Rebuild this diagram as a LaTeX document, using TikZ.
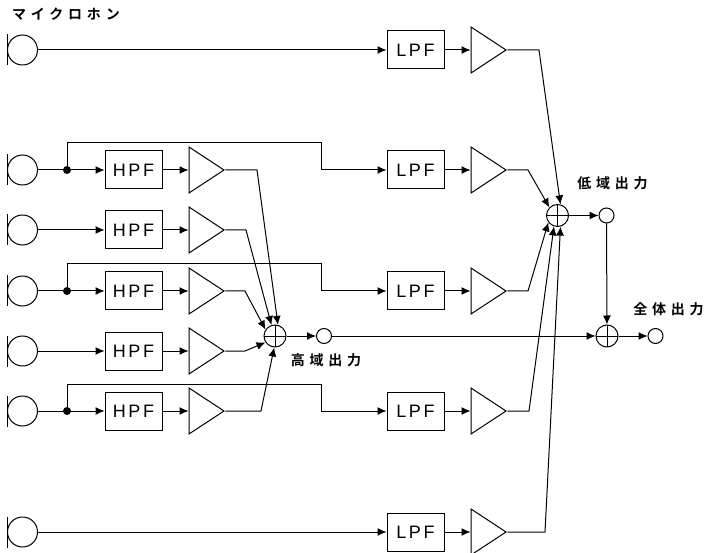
\documentclass[tikz,border=0pt]{standalone}
\usepackage{fontspec}
\newfontfamily\cjk[LetterSpace=34]{Noto Sans CJK JP Bold}
\setsansfont[LetterSpace=15]{Liberation Sans}
\usetikzlibrary{positioning, arrows.meta, calc, shapes.geometric}

\begin{document}
\begin{tikzpicture}[
    x=1pt, y=-1pt,
    node distance=26pt,
    mic/.style={circle, draw, inner sep=0pt, minimum size=30pt, line width=1pt,
                append after command={(\tikzlastnode.west |- \tikzlastnode.north) edge[line width=1pt] (\tikzlastnode.west |- \tikzlastnode.south)}},
    filter/.style={rectangle, draw, inner sep=0pt, minimum width=57pt, minimum height=38pt,
                   line width=1pt, font=\sffamily\fontsize{18}{18}\selectfont},
    amp/.style={isosceles triangle, isosceles triangle stretches, draw, inner sep=0pt,
                minimum width=46pt, minimum height=35pt, line width=1pt},
    adder/.style={circle, draw, inner sep=0pt, minimum size=22pt, line width=1pt,
                  path picture={\draw (path picture bounding box.north) -- (path picture bounding box.south)
                                      (path picture bounding box.west) -- (path picture bounding box.east);}},
    outlet/.style={circle, draw, inner sep=0pt, minimum size=15pt, line width=1pt},
    junction/.style={circle, fill, inner sep=0pt, minimum size=8pt},
    caption/.style={font=\cjk\fontsize{14}{15}\selectfont, inner sep=0pt},
    wire/.style={line width=1pt},
    arrow/.style={-{Latex[length=9pt, width=8pt]}, line width=1pt}
  ]
    \useasboundingbox (0,0) rectangle (704,553);

    \node[caption] (title) at (66,14) {マイクロホン};

    \node[mic] (m1) at (22.5,50) {};
    \node[mic] (m2) at (22.5,170) {};
    \node[mic] (m3) at (22.5,230) {};
    \node[mic] (m4) at (22.5,291) {};
    \node[mic] (m5) at (22.5,351) {};
    \node[mic] (m6) at (22.5,411) {};
    \node[mic] (m7) at (22.5,532) {};

    \node[junction] (d2) at (67,170) {};
    \node[junction] (d4) at (67,291) {};
    \node[junction] (d6) at (67,411) {};

    \node[filter] (h2) at (133.5,170) {HPF};
    \node[filter] (h3) at (133.5,230) {HPF};
    \node[filter] (h4) at (133.5,291) {HPF};
    \node[filter] (h5) at (133.5,351) {HPF};
    \node[filter] (h6) at (133.5,411) {HPF};
    \node[amp, right=of h2] (a2) {};
    \node[amp, right=of h3] (a3) {};
    \node[amp, right=of h4] (a4) {};
    \node[amp, right=of h5] (a5) {};
    \node[amp, right=of h6] (a6) {};

    \node[filter] (l1) at (415.5,50) {LPF};
    \node[filter] (l2) at (415.5,170) {LPF};
    \node[filter] (l4) at (415.5,291) {LPF};
    \node[filter] (l6) at (415.5,411) {LPF};
    \node[filter] (l7) at (415.5,532) {LPF};
    \node[amp, right=of l1] (b1) {};
    \node[amp, right=of l2] (b2) {};
    \node[amp, right=of l4] (b4) {};
    \node[amp, right=of l6] (b6) {};
    \node[amp, right=of l7] (b7) {};

    \node[adder] (sumhigh) at (275,336) {};
    \node[outlet] (outhigh) at (324,336) {};
    \node[caption] (caphigh) at (326,360) {高域出力};
    \node[adder] (sumlow) at (557.5,215.5) {};
    \node[outlet] (outlow) at (606.5,215.5) {};
    \node[caption] (caplow) at (612.5,183) {低域出力};
    \node[adder] (sumall) at (607,336) {};
    \node[outlet] (outall) at (655.5,336) {};
    \node[caption] (capall) at (668.5,309) {全体出力};

    % bends
    \coordinate (t2) at (321,143);
    \coordinate (t4) at (321,264);
    \coordinate (t6) at (321,384);

    \draw[arrow] (m1) -- (l1);
    \draw[wire] (m2) -- (d2);
    \draw[wire] (m4) -- (d4);
    \draw[wire] (m6) -- (d6);
    \draw[arrow] (d2) -- (h2);
    \draw[arrow] (m3) -- (h3);
    \draw[arrow] (d4) -- (h4);
    \draw[arrow] (m5) -- (h5);
    \draw[arrow] (d6) -- (h6);
    \draw[arrow] (m7) -- (l7);

    \draw[arrow] (d2) |- (t2) -- (t2 |- l2) -- (l2);
    \draw[arrow] (d4) |- (t4) -- (t4 |- l4) -- (l4);
    \draw[arrow] (d6) |- (t6) -- (t6 |- l6) -- (l6);

    \draw[arrow] (h2) -- (a2);
    \draw[arrow] (h3) -- (a3);
    \draw[arrow] (h4) -- (a4);
    \draw[arrow] (h5) -- (a5);
    \draw[arrow] (h6) -- (a6);
    \draw[arrow] (l1) -- (b1);
    \draw[arrow] (l2) -- (b2);
    \draw[arrow] (l4) -- (b4);
    \draw[arrow] (l6) -- (b6);
    \draw[arrow] (l7) -- (b7);

    \draw[arrow] (a2.apex) -- (257,170) -- (sumhigh.75);
    \draw[arrow] (a3.apex) -- (246,230) -- (sumhigh.108);
    \draw[arrow] (a4.apex) -- (245,291) -- (sumhigh.146);
    \draw[arrow] (a5.apex) -- (245,351) -- (sumhigh.214);
    \draw[arrow] (a6.apex) -- (261,411) -- (sumhigh.266);

    \draw[arrow] (b1.apex) -- (539,50) -- (sumlow.75);
    \draw[arrow] (b2.apex) -- (528,170) -- (sumlow.135);
    \draw[arrow] (b4.apex) -- (528,291) -- (sumlow.217);
    \draw[arrow] (b6.apex) -- (529,411) -- (sumlow.252);
    \draw[arrow] (b7.apex) -- (545,532) -- (sumlow.285);

    \draw[arrow] (sumhigh) -- (outhigh);
    \draw[arrow] (outhigh) -- (sumall);
    \draw[arrow] (sumlow) -- (outlow);
    \draw[arrow] (outlow) -- (sumall);
    \draw[arrow] (sumall) -- (outall);
  \end{tikzpicture}
\end{document}
